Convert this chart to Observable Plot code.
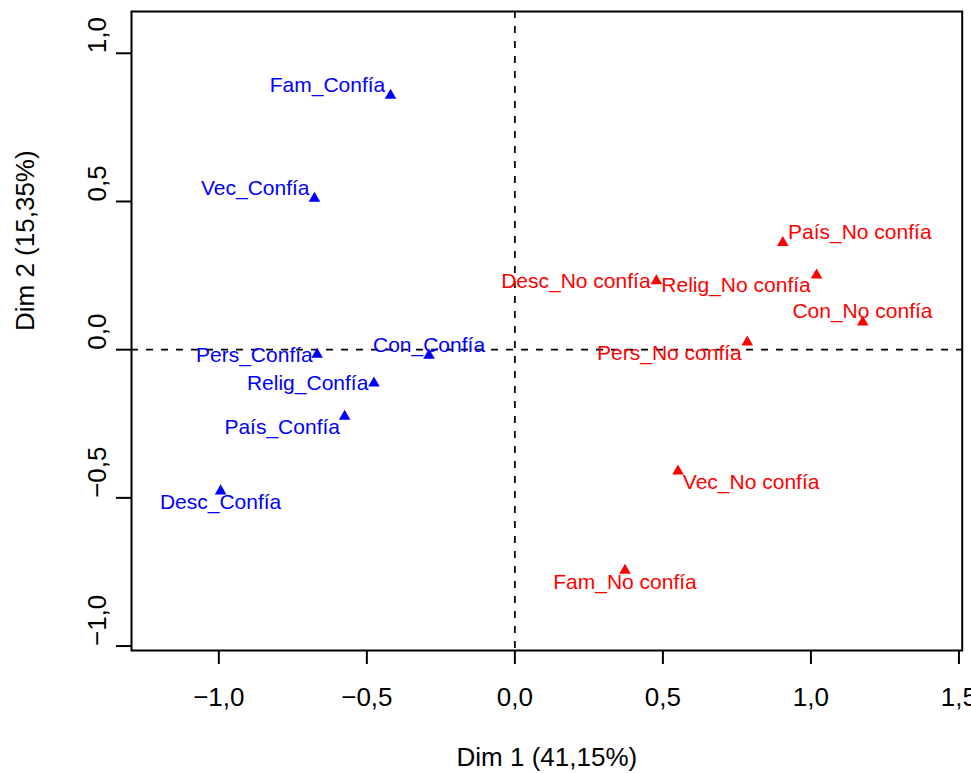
<!DOCTYPE html>
<html>
<head>
<meta charset="utf-8">
<script src="https://cdn.jsdelivr.net/npm/d3@7"></script>
<script src="https://cdn.jsdelivr.net/npm/@observablehq/plot@0.6"></script>
<style>
  html, body { margin: 0; padding: 0; background: #fff; }
  svg { display: block; }
</style>
</head>
<body>
<div id="chart"></div>
<script>
// Category labels
const categories = [
  "Fam_Confía", "Vec_Confía", "Pers_Confía", "Con_Confía", "Relig_Confía", "País_Confía", "Desc_Confía",
  "País_No confía", "Desc_No confía", "Relig_No confía", "Con_No confía", "Pers_No confía", "Vec_No confía", "Fam_No confía"
];
// Group of each category
const groups = [
  "Confía", "Confía", "Confía", "Confía", "Confía", "Confía", "Confía",
  "No confía", "No confía", "No confía", "No confía", "No confía", "No confía", "No confía"
];
// Coordinates on Dim 1 and Dim 2
const dim1 = [-0.420, -0.677, -0.668, -0.290, -0.476, -0.575, -0.994,
               0.905,  0.478,  1.019,  1.175,  0.785,  0.551,  0.372];
const dim2 = [ 0.858,  0.510, -0.016, -0.019, -0.113, -0.225, -0.477,
               0.361,  0.232,  0.251,  0.093,  0.025, -0.410, -0.745];
// Label anchor coordinates (data units, as placed by the original plot)
const labelDim1 = [-0.633, -0.877, -0.880, -0.290, -0.700, -0.786, -0.994,
                    1.165,  0.206,  0.747,  1.174,  0.522,  0.798,  0.372];
const labelDim2 = [ 0.892,  0.545, -0.019,  0.0145, -0.113, -0.263, -0.514,
                    0.395,  0.2305, 0.217,  0.129, -0.0135, -0.447, -0.784];
// Axis ticks
const xTicks = [-1.0, -0.5, 0.0, 0.5, 1.0, 1.5];
const yTicks = [-1.0, -0.5, 0.0, 0.5, 1.0];
const xTitle = "Dim 1 (41,15%)";
const yTitle = "Dim 2 (15,35%)";

const groupColors = {"Confía": "#0000FF", "No confía": "#FF0000"};

const rows = categories.map((c, i) => ({
  label: c, group: groups[i], x: dim1[i], y: dim2[i], lx: labelDim1[i], ly: labelDim2[i]
}));

const fmt = d => d3.format(".1f")(d).replace(".", ",").replace("-", "\u2212");
const font = "Liberation Sans, Arial, Helvetica, sans-serif";

const chart = Plot.plot({
  width: 971,
  height: 773,
  marginLeft: 131,
  marginRight: 9.3,
  marginTop: 11,
  marginBottom: 123,
  style: { fontFamily: font, background: "#fff" },
  x: { domain: [-1.295, 1.511], axis: null },
  y: { domain: [-1.015, 1.141], axis: null },
  marks: [
    Plot.ruleX([0], { stroke: "black", strokeWidth: 1.7, strokeDasharray: "7,8" }),
    Plot.ruleY([0], { stroke: "black", strokeWidth: 1.7, strokeDasharray: "7,8" }),
    Plot.axisX(xTicks, { tickSize: 14, strokeWidth: 2, tickFormat: () => "", label: null }),
    Plot.axisY(yTicks, { tickSize: 15, strokeWidth: 2, tickFormat: () => "", label: null }),
    Plot.text(xTicks, { x: d => d, text: fmt, frameAnchor: "bottom", dy: 47, fontSize: 26, fill: "black", lineAnchor: "middle" }),
    Plot.text(yTicks, { y: d => d, text: fmt, frameAnchor: "left", dx: -33.5, rotate: -90, fontSize: 26, fill: "black", lineAnchor: "middle" }),
    Plot.text([xTitle], { text: d => d, frameAnchor: "bottom", dy: 107.5, fontSize: 26, fill: "black", lineAnchor: "middle" }),
    Plot.text([yTitle], { text: d => d, frameAnchor: "left", dx: -106, rotate: -90, fontSize: 26, fill: "black", lineAnchor: "middle" }),
    Plot.dot(rows, { x: "x", y: "y", symbol: "triangle", r: 4.3, fill: d => groupColors[d.group], stroke: "none" }),
    Plot.text(rows, { x: "lx", y: "ly", text: "label", fill: d => groupColors[d.group], fontSize: 21, lineAnchor: "middle" }),
    Plot.frame({ stroke: "black", strokeWidth: 2 })
  ]
});
document.getElementById("chart").appendChild(chart);
</script>
</body>
</html>
